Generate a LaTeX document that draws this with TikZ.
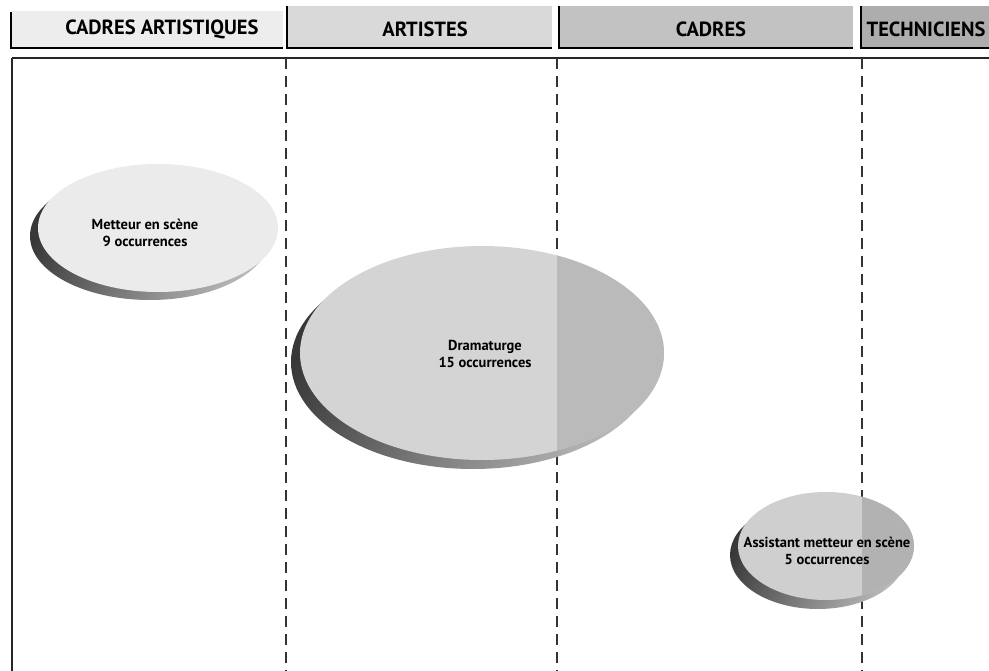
\documentclass[tikz,border=0pt]{standalone}
\usepackage{fontspec}
\setmainfont{PT Sans}
\usetikzlibrary{shapes.geometric}
\tikzset{
  headtext/.style={font=\fontsize{20.5}{24}\selectfont\bfseries, inner sep=0pt},
  elltext/.style={font=\fontsize{14.5}{17}\selectfont\bfseries, align=center, inner sep=0pt},
  colline/.style={line width=1.3pt, draw=black!80, dash pattern=on 11pt off 7pt},
  edgeline/.style={line width=1.5pt, draw=black!85},
  shadowfill/.style={left color=black!78, right color=black!28, shading angle=60},
}
\begin{document}
\begin{tikzpicture}[x=1pt,y=-1pt]
\useasboundingbox (0,0) rectangle (989,671);
% header tabs
\fill[black!7] (11,11) rectangle (283,47);
\fill[black!15] (287,6) rectangle (552,47);
\fill[black!24] (559,6) rectangle (853,47);
\fill[black!32] (861,6) rectangle (989,47);
\draw[line width=2.5pt] (11,12) -- (11,48) -- (283,48);
\draw[line width=2.5pt] (287,6) -- (287,48) -- (552,48);
\draw[line width=2.5pt] (559,6) -- (559,48) -- (853,48);
\draw[line width=2.5pt] (861,6) -- (861,48) -- (989,48);
\node[headtext] (h1) at (162,29) {CADRES ARTISTIQUES};
\node[headtext] (h2) at (425,29) {ARTISTES};
\node[headtext] (h3) at (711,29) {CADRES};
\node[headtext] (h4) at (926,29) {TECHNICIENS};
% frame lines
\coordinate (tl) at (12,58);
\coordinate (tr) at (989,58);
\coordinate (bl) at (12,671);
\draw[edgeline] (tl) -- (tr);
\draw[edgeline] (tl) -- (bl);
\coordinate (c1t) at (286,58); \coordinate (c1b) at (286,671);
\coordinate (c2t) at (557,58); \coordinate (c2b) at (557,671);
\coordinate (c3t) at (862,58); \coordinate (c3b) at (862,671);
\draw[colline] (c1t) -- (c1b);
\draw[colline] (c2t) -- (c2b);
\draw[colline] (c3t) -- (c3b);
% Metteur en scene
\shade[shadowfill] (150,236) ellipse [x radius=120, y radius=64];
\fill[black!8] (158,228) ellipse [x radius=120, y radius=64];
\node[elltext] (e1) at (145,233) {Metteur en scène\\9 occurrences};
% Dramaturge
\shade[shadowfill] (473,362) ellipse [x radius=182, y radius=107];
\fill[black!17] (482,353) ellipse [x radius=182, y radius=107];
\begin{scope}
  \clip (557,200) rectangle (700,500);
  \fill[black!27] (482,353) ellipse [x radius=182, y radius=107];
\end{scope}
\node[elltext] (e2) at (485,354) {Dramaturge\\15 occurrences};
% Assistant
\shade[shadowfill] (818,555) ellipse [x radius=88, y radius=54];
\fill[black!19] (826,546) ellipse [x radius=88, y radius=54];
\begin{scope}
  \clip (862,480) rectangle (930,620);
  \fill[black!30] (826,546) ellipse [x radius=88, y radius=54];
\end{scope}
\node[elltext] (e3) at (827,551) {Assistant metteur en scène\\5 occurrences};
\end{tikzpicture}
\end{document}
